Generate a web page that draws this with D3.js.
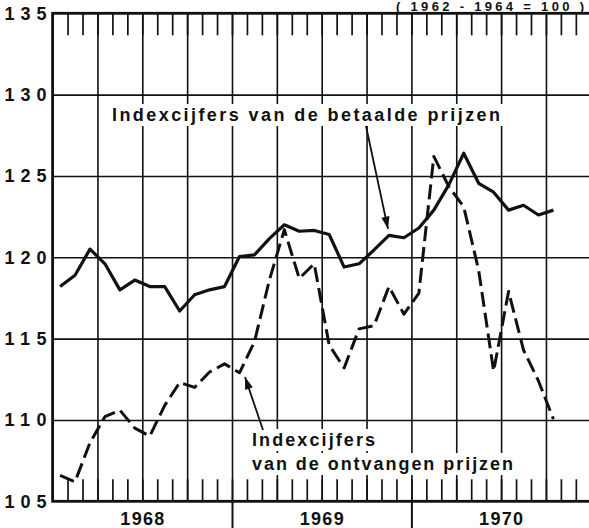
<!DOCTYPE html>
<html>
<head>
<meta charset="utf-8">
<script src="https://cdn.jsdelivr.net/npm/d3@7"></script>
<style>
  html, body { margin: 0; padding: 0; background: #fff; overflow: hidden; }
  svg { display: block; }
  text { font-family: "Liberation Sans", Arial, sans-serif; font-weight: bold; fill: #111; }
</style>
</head>
<body>
<svg id="chart" width="589" height="528"></svg>
<script>
// ---- data ----
const months = d3.range(34).map(i => {
  const names = ["jan","feb","mrt","apr","mei","jun","jul","aug","sep","okt","nov","dec"];
  return names[i % 12] + " " + (1968 + Math.floor(i / 12));
});
const betaalde = [118.2, 118.9, 120.5, 119.6, 118.0, 118.6, 118.2, 118.2, 116.7, 117.7, 118.0, 118.2,
                  120.05, 120.15, 121.15, 122.0, 121.6, 121.65, 121.4, 119.4, 119.6, 120.45, 121.35, 121.2,
                  121.8, 122.9, 124.45, 126.4, 124.55, 124.0, 122.9, 123.2, 122.6, 122.9];
const ontvangen = [106.6, 106.2, 108.6, 110.2, 110.6, 109.5, 109.0, 110.9, 112.3, 112.0, 112.95, 113.45,
                   112.9, 114.8, 118.6, 121.7, 118.7, 119.6, 114.6, 113.2, 115.6, 115.8, 118.2, 116.5,
                   117.8, 126.2, 124.35, 123.1, 119.2, 113.0, 117.9, 114.3, 112.4, 110.05];
const years = ["1968", "1969", "1970"];
const yTicks = [105, 110, 115, 120, 125, 130, 135];
const labelSolid = "Indexcijfers van de betaalde prijzen";
const labelDash1 = "Indexcijfers";
const labelDash2 = "van de ontvangen prijzen";
const baseNote = "( 1962 - 1964 = 100 )";

// ---- layout ----
const L = 52.6, R = 590.8, T = 13.3, B = 501.3;
const svg = d3.select("#chart");
const x = d3.scaleLinear().domain([0, 36]).range([L, R]);
const y = d3.scaleLinear().domain([105, 135]).range([B, T]);

const ink = "#111";

// horizontal gridlines
const hg = svg.append("g").attr("transform", `translate(${L},0)`)
  .call(d3.axisLeft(y).tickValues([110, 115, 120, 125, 130]).tickSize(-(R - L)).tickFormat(""));
hg.select(".domain").remove();
hg.selectAll("line").attr("stroke", ink).attr("stroke-width", 1.6);

// quarterly vertical gridlines
const vg = svg.append("g").attr("transform", `translate(0,${B})`)
  .call(d3.axisBottom(x).tickValues(d3.range(3, 36, 3)).tickSize(-(B - T)).tickFormat(""));
vg.select(".domain").remove();
vg.selectAll("line").attr("stroke", ink).attr("stroke-width", 1.6);

// monthly ticks bottom and top
const mb = svg.append("g").attr("transform", `translate(0,${B})`)
  .call(d3.axisBottom(x).tickValues(d3.range(1, 36)).tickSize(-22).tickFormat(""));
mb.select(".domain").remove();
mb.selectAll("line").attr("stroke", ink).attr("stroke-width", 1.7);
const mt = svg.append("g").attr("transform", `translate(0,${T})`)
  .call(d3.axisTop(x).tickValues(d3.range(1, 36)).tickSize(-22).tickFormat(""));
mt.select(".domain").remove();
mt.selectAll("line").attr("stroke", ink).attr("stroke-width", 1.7);

// year separators below axis
const ys = svg.append("g").attr("transform", `translate(0,${B})`)
  .call(d3.axisBottom(x).tickValues([12, 24]).tickSize(28).tickFormat(""));
ys.select(".domain").remove();
ys.selectAll("line").attr("stroke", ink).attr("stroke-width", 2);

// frame
svg.append("rect").attr("x", L).attr("y", T).attr("width", R - L).attr("height", B - T)
  .attr("fill", "none").attr("stroke", ink).attr("stroke-width", 2.8);

// label helper with white knock-out
function label(txt, x0, yb, len, size) {
  const g = svg.append("g");
  const t = g.append("text").attr("x", x0).attr("y", yb).attr("font-size", size)
    .attr("textLength", len).attr("lengthAdjust", "spacing").text(txt);
  const bb = t.node().getBBox();
  g.insert("rect", "text").attr("x", bb.x - 3).attr("y", bb.y - 1)
    .attr("width", bb.width + 6).attr("height", bb.height + 2).attr("fill", "#fff");
  return g;
}

// lines
const line = d3.line().x((d, i) => x(i + 0.5)).y(d => y(d));
svg.append("path").datum(ontvangen).attr("d", line).attr("fill", "none")
  .attr("stroke", ink).attr("stroke-width", 3).attr("stroke-dasharray", "15,6")
  .attr("stroke-linejoin", "round");
svg.append("path").datum(betaalde).attr("d", line).attr("fill", "none")
  .attr("stroke", ink).attr("stroke-width", 3.2).attr("stroke-linejoin", "round");

// text labels
label(labelSolid, 112, 121, 388, 18);
label(labelDash1, 252, 446, 123, 18);
label(labelDash2, 252, 470, 261, 18);

// arrows
function arrow(x1, y1, x2, y2) {
  const g = svg.append("g");
  g.append("line").attr("x1", x1).attr("y1", y1).attr("x2", x2).attr("y2", y2)
    .attr("stroke", ink).attr("stroke-width", 1.8);
  const a = Math.atan2(y2 - y1, x2 - x1), h = 13, w = 0.32;
  const p = [[x2, y2],
    [x2 - h * Math.cos(a - w), y2 - h * Math.sin(a - w)],
    [x2 - h * Math.cos(a + w), y2 - h * Math.sin(a + w)]];
  g.append("path").attr("d", d3.line()(p) + "Z").attr("fill", ink);
}
arrow(366, 126, 388, 229);
arrow(263, 430, 245, 377);

// y axis labels
const yl = svg.append("g").attr("transform", `translate(${L},0)`)
  .call(d3.axisLeft(y).tickValues(yTicks).tickSize(0).tickPadding(6).tickFormat(d => String(d)));
yl.select(".domain").remove();
yl.selectAll("text").attr("font-size", 18).attr("font-family", "Liberation Sans, Arial, sans-serif")
  .attr("font-weight", "bold").attr("fill", ink).attr("textLength", 42).attr("lengthAdjust", "spacing");

// years
svg.append("g").selectAll("text").data(years).join("text")
  .attr("x", (d, i) => x(6 + 12 * i)).attr("y", 525).attr("text-anchor", "middle")
  .attr("font-size", 18).attr("textLength", 44).attr("lengthAdjust", "spacing").text(d => d);

// base note top right
svg.append("text").attr("x", 396).attr("y", 10.5).attr("font-size", 13)
  .attr("textLength", 188).attr("lengthAdjust", "spacing").text(baseNote);
</script>
</body>
</html>
